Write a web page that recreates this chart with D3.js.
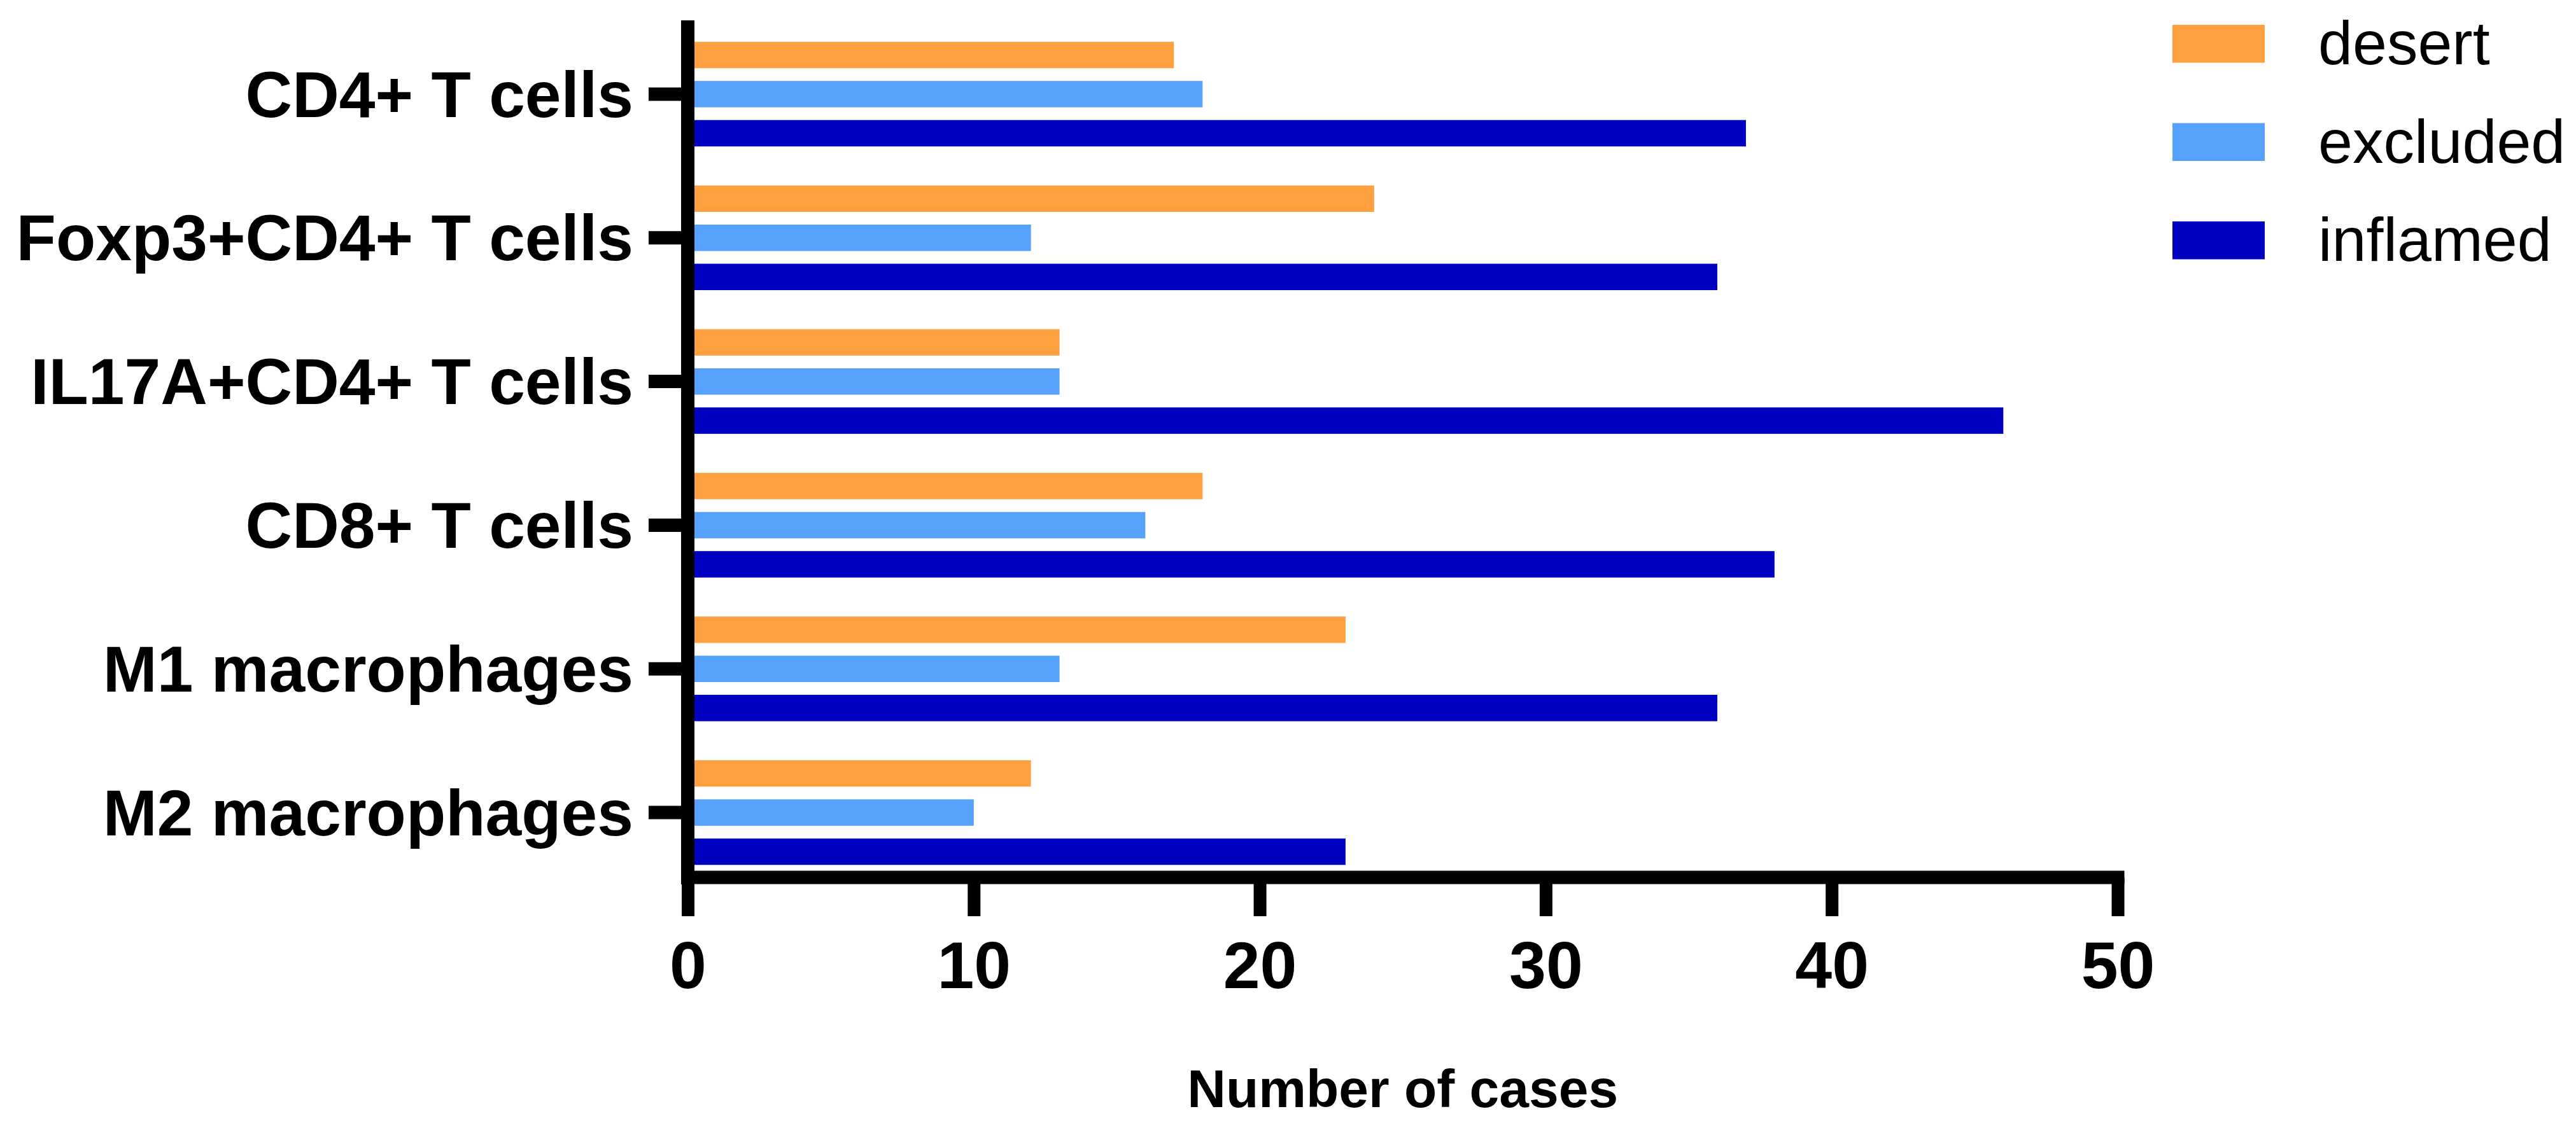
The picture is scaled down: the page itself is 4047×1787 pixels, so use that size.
<!DOCTYPE html>
<html>
<head>
<meta charset="utf-8">
<script src="https://cdn.jsdelivr.net/npm/d3@7"></script>
<style>
  body { margin: 0; background: #fff; }
  svg { display: block; font-family: Arial, "Liberation Sans", sans-serif; }
</style>
</head>
<body>
<div id="chart"></div>
<script>
const categories = ["CD4+ T cells", "Foxp3+CD4+ T cells", "IL17A+CD4+ T cells", "CD8+ T cells", "M1 macrophages", "M2 macrophages"];
const series = ["desert", "excluded", "inflamed"];
const desert = [17, 24, 13, 18, 23, 12];
const excluded = [18, 12, 13, 16, 13, 10];
const inflamed = [37, 36, 46, 38, 36, 23];
const xTicks = [0, 10, 20, 30, 40, 50];
const colors = ["#FFA040", "#55A1FB", "#0000C0"];

const width = 4047, height = 1787;
const axisW = 21;

const svg = d3.select("#chart")
    .append("svg")
    .attr("width", width)
    .attr("height", height)
    .attr("viewBox", [0, 0, width, height]);

const x = d3.scaleLinear().domain([0, 50]).range([1080.5, 3327]);
const y = d3.scaleBand().domain(categories).range([35, 1390]);
const inner = d3.scaleBand().domain(series)
    .range([-92.25, 92.25])
    .paddingInner(0.325)
    .paddingOuter(0.1625);
const color = d3.scaleOrdinal().domain(series).range(colors);

const values = { desert, excluded, inflamed };
const rows = [];
categories.forEach((c, i) => {
    series.forEach(s => rows.push({ cat: c, s, v: values[s][i] }));
});

// bars
svg.append("g").attr("class", "bars")
    .selectAll("rect")
    .data(rows)
    .join("rect")
    .attr("x", x(0))
    .attr("y", d => y(d.cat) + y.bandwidth() / 2 + inner(d.s))
    .attr("width", d => x(d.v) - x(0))
    .attr("height", inner.bandwidth())
    .attr("fill", d => color(d.s));

// x axis
const xAxis = svg.append("g")
    .attr("transform", `translate(0,1379)`)
    .call(d3.axisBottom(x).tickValues(xTicks).tickSize(61).tickPadding(39));
xAxis.select(".domain").remove();
xAxis.selectAll(".tick line").attr("stroke", "#000").attr("stroke-width", 20);
xAxis.selectAll(".tick text")
    .attr("font-size", 104)
    .attr("font-weight", "bold")
    .attr("fill", "#000");

// y axis
const yAxis = svg.append("g")
    .attr("transform", `translate(${x(0)},0)`)
    .call(d3.axisLeft(y).tickSize(61.5).tickPadding(24));
yAxis.select(".domain").remove();
yAxis.selectAll(".tick line").attr("stroke", "#000").attr("stroke-width", 21);
yAxis.selectAll(".tick text")
    .attr("font-size", 102)
    .attr("font-weight", "bold")
    .attr("dy", "0.35em")
    .attr("fill", "#000");

// axis lines
svg.append("line")
    .attr("x1", x(0)).attr("x2", x(0))
    .attr("y1", 32).attr("y2", 1390)
    .attr("stroke", "#000").attr("stroke-width", axisW);
svg.append("line")
    .attr("x1", x(0) - axisW / 2).attr("x2", x(50) + axisW / 2)
    .attr("y1", 1379).attr("y2", 1379)
    .attr("stroke", "#000").attr("stroke-width", axisW);

// axis title
svg.append("text")
    .attr("x", (x(0) + x(50)) / 2)
    .attr("y", 1740)
    .attr("text-anchor", "middle")
    .attr("font-size", 84)
    .attr("font-weight", "bold")
    .text("Number of cases");

// legend
const legend = svg.append("g").attr("class", "legend")
    .selectAll("g")
    .data(series)
    .join("g")
    .attr("transform", (d, i) => `translate(3413,${39 + i * 154.5})`);
legend.append("rect")
    .attr("width", 145)
    .attr("height", 59.5)
    .attr("fill", d => color(d));
legend.append("text")
    .attr("x", 229)
    .attr("y", 62)
    .attr("font-size", 97)
    .text(d => d);
</script>
</body>
</html>
